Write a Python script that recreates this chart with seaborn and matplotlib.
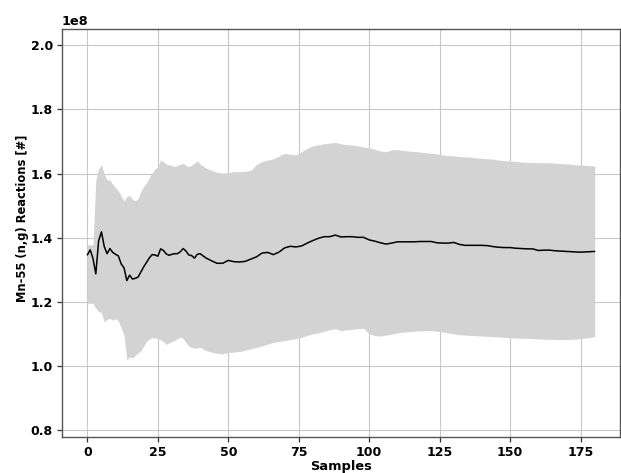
import numpy as np
import pandas as pd
import matplotlib
matplotlib.use("Agg")
import matplotlib.pyplot as plt
import seaborn as sns

# Sample positions (every sample up to 40, then every second sample)
samples = list(range(0, 41)) + list(range(42, 181, 2))

# Running mean (x1e8)
mean_vals = [
    1.346, 1.362, 1.335, 1.287, 1.390, 1.418, 1.372, 1.350, 1.366, 1.354,
    1.348, 1.343, 1.318, 1.306, 1.266, 1.283, 1.271, 1.273, 1.277, 1.293,
    1.309, 1.323, 1.337, 1.347, 1.346, 1.342, 1.365, 1.360, 1.349, 1.345,
    1.348, 1.350, 1.350, 1.356, 1.366, 1.358, 1.346, 1.344, 1.336, 1.348,
    1.350,
    1.337, 1.328, 1.320, 1.320, 1.329, 1.325, 1.324, 1.326, 1.333, 1.340,
    1.352, 1.354, 1.347, 1.355, 1.368, 1.373, 1.371, 1.374, 1.383, 1.391,
    1.398, 1.403, 1.403, 1.408, 1.402, 1.403, 1.403, 1.401, 1.401, 1.393,
    1.389, 1.384, 1.380, 1.383, 1.387, 1.387, 1.387, 1.387, 1.388, 1.388,
    1.388, 1.384, 1.383, 1.383, 1.385, 1.379, 1.376, 1.376, 1.376, 1.376,
    1.375, 1.372, 1.370, 1.369, 1.369, 1.367, 1.366, 1.365, 1.365, 1.360,
    1.361, 1.361, 1.359, 1.358, 1.357, 1.356, 1.355, 1.355, 1.356, 1.357,
]

# Upper edge of band (x1e8)
upper_vals = [
    1.378, 1.378, 1.378, 1.580, 1.615, 1.627, 1.598, 1.580, 1.580, 1.566,
    1.556, 1.545, 1.530, 1.514, 1.528, 1.532, 1.520, 1.515, 1.522, 1.545,
    1.560, 1.572, 1.588, 1.602, 1.615, 1.620, 1.643, 1.636, 1.630, 1.627,
    1.625, 1.622, 1.626, 1.628, 1.632, 1.625, 1.622, 1.626, 1.632, 1.640,
    1.630,
    1.618, 1.610, 1.604, 1.601, 1.603, 1.606, 1.606, 1.607, 1.610, 1.628,
    1.638, 1.642, 1.646, 1.655, 1.663, 1.660, 1.658, 1.668, 1.678, 1.686,
    1.690, 1.693, 1.695, 1.697, 1.693, 1.690, 1.689, 1.686, 1.683, 1.680,
    1.676, 1.670, 1.668, 1.674, 1.675, 1.672, 1.670, 1.669, 1.667, 1.665,
    1.663, 1.661, 1.658, 1.656, 1.655, 1.653, 1.652, 1.651, 1.649, 1.647,
    1.646, 1.645, 1.642, 1.640, 1.639, 1.638, 1.636, 1.635, 1.634, 1.634,
    1.634, 1.634, 1.632, 1.631, 1.630, 1.629, 1.627, 1.626, 1.625, 1.624,
]

# Lower edge of band (x1e8)
lower_vals = [
    1.195, 1.195, 1.195, 1.180, 1.170, 1.165, 1.137, 1.145, 1.148, 1.143,
    1.147, 1.140, 1.118, 1.095, 1.018, 1.028, 1.025, 1.033, 1.040, 1.048,
    1.062, 1.076, 1.084, 1.088, 1.087, 1.085, 1.081, 1.075, 1.067, 1.072,
    1.076, 1.080, 1.085, 1.090, 1.085, 1.072, 1.062, 1.058, 1.055, 1.056,
    1.058,
    1.048, 1.043, 1.039, 1.037, 1.042, 1.043, 1.045, 1.049, 1.053, 1.058,
    1.062, 1.068, 1.073, 1.076, 1.079, 1.082, 1.085, 1.089, 1.095, 1.100,
    1.103, 1.108, 1.113, 1.116, 1.110, 1.112, 1.114, 1.116, 1.117, 1.100,
    1.094, 1.093, 1.096, 1.099, 1.103, 1.105, 1.107, 1.108, 1.109, 1.110,
    1.110, 1.108, 1.106, 1.103, 1.100, 1.097, 1.096, 1.095, 1.094, 1.093,
    1.092, 1.091, 1.090, 1.089, 1.088, 1.087, 1.086, 1.086, 1.085, 1.084,
    1.083, 1.083, 1.082, 1.082, 1.082, 1.083, 1.084, 1.086, 1.088, 1.091,
]

y_ticks = [0.8, 1.0, 1.2, 1.4, 1.6, 1.8, 2.0]
x_ticks = [0, 25, 50, 75, 100, 125, 150, 175]
x_label = "Samples"
y_label = "Mn-55 (n,g) Reactions [#]"

scale = 1e8
df = pd.DataFrame({
    "Samples": samples,
    "mean": np.array(mean_vals) * scale,
    "upper": np.array(upper_vals) * scale,
    "lower": np.array(lower_vals) * scale,
})

sns.set_style("white")
plt.rcParams["font.family"] = ["DejaVu Sans"]
plt.rcParams["font.weight"] = "bold"
plt.rcParams["text.color"] = "black"
plt.rcParams["axes.labelcolor"] = "black"
plt.rcParams["xtick.color"] = "black"
plt.rcParams["ytick.color"] = "black"

fig = plt.figure(figsize=(6.21, 4.73), dpi=100)
ax = fig.add_axes([62 / 621, 1 - 437 / 473, (620 - 62) / 621, (437 - 29) / 473])

ax.fill_between(df["Samples"], df["lower"], df["upper"], color="#d3d3d3", linewidth=0, zorder=1)
sns.lineplot(data=df, x="Samples", y="mean", color="black", linewidth=1.1, ax=ax, zorder=3)

ax.set_xlim(-9, 189)
ax.set_ylim(0.778 * scale, 2.051 * scale)
ax.set_xticks(x_ticks)
ax.set_yticks([v * scale for v in y_ticks])
ax.grid(True, color="#c8c8c8", linewidth=0.8, zorder=0)
ax.set_axisbelow(True)

ax.set_xlabel(x_label, fontsize=9.4, fontweight="bold", labelpad=1, color="black")
ax.set_ylabel(y_label, fontsize=8.3, fontweight="bold", color="black")
ax.yaxis.set_label_coords(-0.060, 0.537)
ax.tick_params(axis="both", which="major", labelsize=9, length=3.5, width=0.9,
               color="#333333", labelcolor="black", bottom=True, left=True, pad=3)
for lab in ax.get_xticklabels() + ax.get_yticklabels():
    lab.set_fontweight("bold")
ax.yaxis.get_offset_text().set_fontweight("bold")
ax.yaxis.get_offset_text().set_fontsize(9.3)
ax.yaxis.get_offset_text().set_color("black")

for sp in ax.spines.values():
    sp.set_color("#555555")
    sp.set_linewidth(1.0)

fig.savefig("out.png", dpi=100)
